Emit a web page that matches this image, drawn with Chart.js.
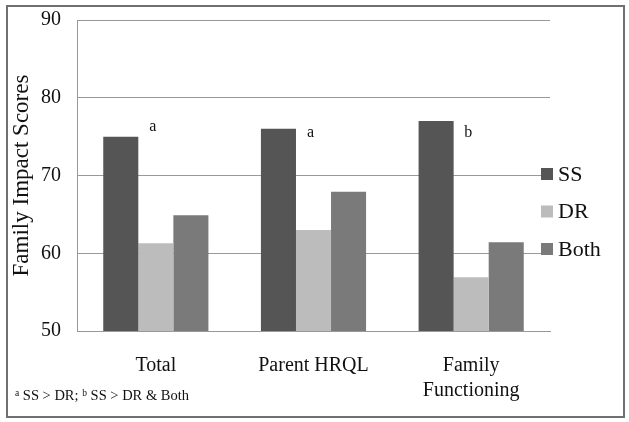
<!DOCTYPE html>
<html>
<head>
<meta charset="utf-8">
<script src="https://cdn.jsdelivr.net/npm/chart.js@4/dist/chart.umd.min.js"></script>
<style>
  html, body { margin: 0; padding: 0; background: #fff; }
  #wrap { position: relative; width: 629px; height: 422px; }
  #frame { position: absolute; left: 6px; top: 5px; width: 615px; height: 409px; border: 2px solid #707070; pointer-events: none; }
  #note { position: absolute; left: 15px; top: 387px; font: 14.5px "Liberation Serif", serif; color: #111; }
  #note sup { font-size: 9.5px; vertical-align: 4px; }
</style>
</head>
<body>
<div id="wrap">
  <canvas id="chart" width="629" height="422"></canvas>
  <div id="frame"></div>
  <div id="note"><sup>a</sup> SS &gt; DR; <sup>b</sup> SS &gt; DR &amp; Both</div>
</div>
<script>
const categories = ['Total', 'Parent HRQL', ['Family', 'Functioning']];
const ssValues = [75, 76, 77];
const drValues = [61.3, 63, 56.9];
const bothValues = [64.9, 67.9, 61.4];
const marks = ['a', 'a', 'b'];
const markLevels = [76.3, 75.5, 75.5];
const yTicks = [50, 60, 70, 80, 90];

const serif = '"Liberation Serif", serif';

// letters a/b next to the SS bars, plus the legend on the right
const extras = {
    id: 'extras',
    afterDraw(chart) {
        const ctx = chart.ctx;
        const x = chart.scales.x, y = chart.scales.y;
        ctx.save();
        ctx.fillStyle = '#111';
        ctx.font = '16px ' + serif;
        ctx.textAlign = 'center';
        ctx.textBaseline = 'middle';
        marks.forEach((m, i) => {
            ctx.fillText(m, x.getPixelForValue(i) - 3, y.getPixelForValue(markLevels[i]));
        });
        ctx.font = '22px ' + serif;
        ctx.textAlign = 'left';
        chart.data.datasets.forEach((ds, i) => {
            const cy = 174 + i * 37.5;
            ctx.fillStyle = ds.backgroundColor;
            ctx.fillRect(541, cy - 6, 12, 12);
            ctx.fillStyle = '#111';
            ctx.fillText(ds.label, 558, cy + 1);
        });
        ctx.restore();
    }
};

new Chart(document.getElementById('chart').getContext('2d'), {
    type: 'bar',
    data: {
        labels: categories,
        datasets: [
            { label: 'SS', data: ssValues, backgroundColor: '#555555' },
            { label: 'DR', data: drValues, backgroundColor: '#bcbcbc' },
            { label: 'Both', data: bothValues, backgroundColor: '#7a7a7a' }
        ]
    },
    options: {
        responsive: false,
        animation: false,
        categoryPercentage: 0.667,
        barPercentage: 1,
        layout: { padding: { left: 8, right: 79, top: 20, bottom: 0 } },
        plugins: { legend: { display: false }, tooltip: { enabled: false } },
        scales: {
            x: {
                grid: { display: false },
                border: { color: '#999999', width: 1 },
                ticks: { color: '#111', font: { family: serif, size: 20, lineHeight: 1.25 }, padding: 14, maxRotation: 0 },
                afterFit: s => { s.height = 91; }
            },
            y: {
                min: 50, max: 90,
                afterBuildTicks: s => { s.ticks = yTicks.map(v => ({ value: v })); },
                grid: { color: '#999999', drawTicks: true, tickLength: 13, tickColor: 'rgba(0,0,0,0)' },
                border: { color: '#999999', width: 1 },
                ticks: { color: '#111', font: { family: serif, size: 20 }, padding: 3 },
                title: { display: true, text: 'Family Impact Scores', color: '#111', font: { family: serif, size: 23 }, padding: 0 },
                afterFit: s => { s.width = 69; }
            }
        }
    },
    plugins: [extras]
});
</script>
</body>
</html>
